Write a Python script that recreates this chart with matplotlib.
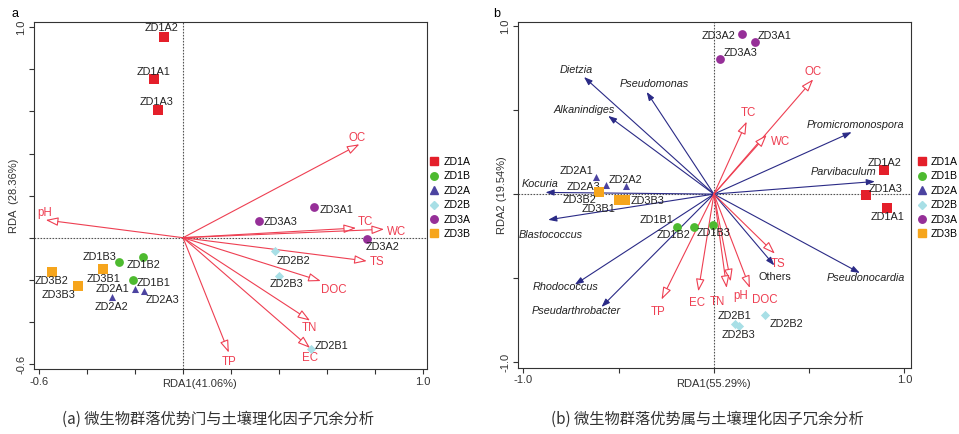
import matplotlib.pyplot as plt
import numpy as np
from matplotlib.lines import Line2D

plt.rcParams['font.family'] = ['Liberation Sans', 'DejaVu Sans']

# ---- data: panel a (phylum level) ----
groups = ['ZD1A', 'ZD1B', 'ZD2A', 'ZD2B', 'ZD3A', 'ZD3B']
a_x = {'ZD1A': [-0.122, -0.080, -0.104], 'ZD1B': [-0.207, -0.167, -0.266],
       'ZD2A': [-0.200, -0.298, -0.163], 'ZD2B': [0.533, 0.383, 0.400],
       'ZD3A': [0.547, 0.767, 0.317], 'ZD3B': [-0.333, -0.548, -0.438]}
a_y = {'ZD1A': [0.753, 0.952, 0.607], 'ZD1B': [-0.201, -0.090, -0.117],
       'ZD2A': [-0.244, -0.283, -0.252], 'ZD2B': [-0.530, -0.062, -0.180],
       'ZD3A': [0.147, -0.005, 0.078], 'ZD3B': [-0.150, -0.163, -0.231]}
env = ['OC', 'pH', 'TC', 'WC', 'TS', 'DOC', 'TN', 'EC', 'TP']
a_env_x = [0.736, -0.573, 0.722, 0.839, 0.767, 0.575, 0.530, 0.530, 0.191]
a_env_y = [0.444, 0.084, 0.046, 0.040, -0.111, -0.206, -0.394, -0.524, -0.546]

# ---- data: panel b (genus level) ----
b_x = {'ZD1A': [0.910, 0.894, 0.800], 'ZD1B': [-0.193, -0.107, -0.003],
       'ZD2A': [-0.619, -0.462, -0.569], 'ZD2B': [0.110, 0.268, 0.130],
       'ZD3A': [0.217, 0.145, 0.031], 'ZD3B': [-0.499, -0.602, -0.467]}
b_y = {'ZD1A': [-0.083, 0.142, -0.008], 'ZD1B': [-0.196, -0.196, -0.182],
       'ZD2A': [0.104, 0.049, 0.055], 'ZD2B': [-0.770, -0.716, -0.786],
       'ZD3A': [0.902, 0.950, 0.801], 'ZD3B': [-0.038, 0.010, -0.034]}
b_env_x = [0.521, 0.088, 0.172, 0.277, 0.320, 0.189, 0.067, -0.082, -0.275]
b_env_y = [0.682, -0.519, 0.431, 0.352, -0.354, -0.558, -0.558, -0.578, -0.627]
genera = ['Dietzia', 'Pseudomonas', 'Alkanindiges', 'Promicromonospora', 'Parvibaculum',
          'Kocuria', 'Blastococcus', 'Rhodococcus', 'Pseudarthrobacter', 'Others',
          'Pseudonocardia']
gen_x = [-0.682, -0.353, -0.555, 0.723, 0.845, -0.884, -0.870, -0.730, -0.590, 0.317, 0.766]
gen_y = [0.696, 0.607, 0.465, 0.368, 0.075, 0.010, -0.153, -0.538, -0.671, -0.424, -0.469]

# ---- styling / label placement (pixel offsets: dx, dy-up) ----
style = {'ZD1A': ('s', '#e41f2a', 50), 'ZD1B': ('o', '#4dba2f', 40),
         'ZD2A': ('^', '#4b43a0', 26), 'ZD2B': ('D', '#a8dfe6', 22),
         'ZD3A': ('o', '#962f98', 40), 'ZD3B': ('s', '#f6a51c', 50)}
RED = '#ee3f52'
NAVY = '#2a2a86'

a_pt_off = {'ZD1A': [(0, 7.3), (-2.7, 9), (-1.3, 7.7)],
            'ZD1B': [(20, -3), (0, -8.6), (-20, 5)],
            'ZD2A': [(-23, 0), (0, -9.4), (18.7, -9.3)],
            'ZD2B': [(20.3, 3.6), (18.6, -10.6), (7.3, -8.6)],
            'ZD3A': [(22.7, -3.3), (16, -8), (22, -1)],
            'ZD3B': [(0, -10), (0, -9), (-19.7, -8.7)]}
a_env_off = [(-2.6, 6.6), (-1, 7), (9, 6), (12.7, -2.7), (10, -1), (12.6, -9),
             (-1, -7), (0, -9.7), (0.6, -9.6)]

b_pt_off = {'ZD1A': [(0, -8.6), (0, 7.3), (19, 6)],
            'ZD1B': [(-20.6, 7.3), (-20.4, -8.4), (0, -8.3)],
            'ZD2A': [(-19.3, 5.4), (0, 6), (-22.4, -1.7)],
            'ZD2B': [(0, 7.3), (21, -9), (0, -9)],
            'ZD3A': [(19.7, 6.6), (-22.7, -1.4), (20.7, 6.6)],
            'ZD3B': [(-20.7, -8.6), (-20, -8), (22.3, -0.7)]}
b_env_off = [(0, 7.6), (10, -14.3), (1.6, 8.4), (14, -6.7), (2.7, -10), (15, -11.7),
             (-9.4, -14), (-1.6, -12), (-3.4, -12.3)]
gen_off = [(-7.3, 7), (7.3, 8), (-24.3, 6), (3.3, 7.3), (-31.7, 9), (-5.7, 8.4),
           (2.4, -15), (-9.3, -2.3), (-25, -4.4), (0.7, -11.6), (6, -5)]

PX = 0.72  # pixels -> points at dpi 100


def arrow(ax, x, y, color, fc, hl, hw):
    ax.annotate('', xy=(x, y), xytext=(0, 0),
                arrowprops=dict(arrowstyle=f'-|>,head_length={hl},head_width={hw}',
                                ec=color, fc=fc, lw=0.8, shrinkA=0, shrinkB=0))


def label(ax, x, y, s, off, **kw):
    ax.annotate(s, xy=(x, y), xytext=(off[0] * PX, off[1] * PX), textcoords='offset points',
                ha='center', va='center', **kw)


def setup(ax, xlim, ylim, ticks_x, ticks_y, xlab, ylab):
    ax.set_xlim(xlim)
    ax.set_ylim(ylim)
    ax.axhline(0, color='#555555', lw=0.8, ls=(0, (1.5, 1.2)), zorder=0)
    ax.axvline(0, color='#555555', lw=0.8, ls=(0, (1.5, 1.2)), zorder=0)
    ax.set_xticks(ticks_x)
    ax.set_xticklabels([f'{t:.1f}' if i in (0, len(ticks_x) - 1) else ''
                        for i, t in enumerate(ticks_x)])
    ax.set_yticks(ticks_y)
    ax.set_yticklabels([f'{t:.1f}' if i in (0, len(ticks_y) - 1) else ''
                        for i, t in enumerate(ticks_y)], rotation=90, va='center')
    ax.tick_params(direction='out', length=3.5, width=0.8, labelsize=8,
                   colors='#333333', pad=2)
    for sp in ax.spines.values():
        sp.set_color('#333333')
        sp.set_linewidth(0.8)
    ax.set_xlabel(xlab, fontsize=8, color='#333333')
    ax.set_ylabel(ylab, fontsize=8, color='#333333')


def legend(ax, x0):
    handles = [Line2D([], [], ls='', marker=style[g][0], color=style[g][1],
                      markersize=5.4 if style[g][0] != 'D' else 4.4) for g in groups]
    ax.legend(handles, groups, loc='upper left', bbox_to_anchor=(x0, 1 - 157 / 434),
              bbox_transform=ax.figure.transFigure, frameon=False, fontsize=7.6,
              handlelength=0.8, handletextpad=0.45, labelspacing=0.42, borderpad=0,
              borderaxespad=0)


fig = plt.figure(figsize=(9.59, 4.34), dpi=100)
ax1 = fig.add_axes([34 / 959, 1 - 369 / 434, 393 / 959, 347 / 434])
ax2 = fig.add_axes([517.7 / 959, 1 - 367.7 / 434, 393 / 959, 345.7 / 434])

# ---- panel a ----
setup(ax1, (-0.622, 1.018), (-0.624, 1.025), np.round(np.arange(-0.6, 1.01, 0.2), 1),
      np.round(np.arange(-0.6, 1.01, 0.2), 1), 'RDA1(41.06%)', 'RDA  (28.36%)')
ax1.xaxis.set_label_coords(0.422, -0.03)
ax1.yaxis.set_label_coords(-0.038, 0.5)
for i, e in enumerate(env):
    arrow(ax1, a_env_x[i], a_env_y[i], RED, 'white', 0.75, 0.26)
    label(ax1, a_env_x[i], a_env_y[i], e, a_env_off[i], fontsize=8.3, color=RED)
for g in groups:
    m, c, s = style[g]
    ax1.scatter(a_x[g], a_y[g], marker=m, c=c, s=s, lw=0, zorder=3)
    for k in range(3):
        label(ax1, a_x[g][k], a_y[g][k], f'{g}{k + 1}', a_pt_off[g][k],
              fontsize=7.8, color='#222222')
legend(ax1, 430 / 959)

# ---- panel b ----
setup(ax2, (-1.03, 1.033), (-1.032, 1.023), [-1.0, -0.5, 0.0, 0.5, 1.0],
      [-1.0, -0.5, 0.0, 0.5, 1.0], 'RDA1(55.29%)', 'RDA2 (19.54%)')
ax2.xaxis.set_label_coords(0.497, -0.033)
ax2.yaxis.set_label_coords(-0.027, 0.5)
for i, gname in enumerate(genera):
    arrow(ax2, gen_x[i], gen_y[i], NAVY, NAVY, 0.5, 0.18)
    label(ax2, gen_x[i], gen_y[i], gname, gen_off[i], fontsize=7.8, color='#222222',
          style='normal' if gname == 'Others' else 'italic')
for i, e in enumerate(env):
    arrow(ax2, b_env_x[i], b_env_y[i], RED, 'white', 0.75, 0.26)
    label(ax2, b_env_x[i], b_env_y[i], e, b_env_off[i], fontsize=8.3, color=RED)
for g in groups:
    m, c, s = style[g]
    ax2.scatter(b_x[g], b_y[g], marker=m, c=c, s=s, lw=0, zorder=3)
    for k in range(3):
        label(ax2, b_x[g][k], b_y[g][k], f'{g}{k + 1}', b_pt_off[g][k],
              fontsize=7.8, color='#222222')
legend(ax2, 917.5 / 959)

fig.text(15 / 959, 1 - 14 / 434, 'a', fontsize=9, ha='center', va='center')
fig.text(497 / 959, 1 - 14 / 434, 'b', fontsize=9, ha='center', va='center')

cap = ['Noto Sans CJK SC', 'DejaVu Sans']
fig.text(218 / 959, 1 - 419 / 434, '(a) 微生物群落优势门与土壤理化因子冗余分析',
         fontsize=11, ha='center', va='center', color='#333333', family=cap)
fig.text(707 / 959, 1 - 419 / 434, '(b) 微生物群落优势属与土壤理化因子冗余分析',
         fontsize=11, ha='center', va='center', color='#333333', family=cap)

fig.savefig('out.png', dpi=100)
